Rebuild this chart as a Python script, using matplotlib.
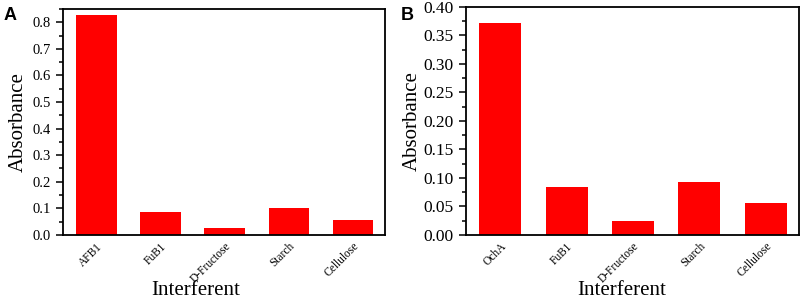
import matplotlib
matplotlib.use("Agg")
from matplotlib import pyplot as plt
from matplotlib.ticker import MultipleLocator, AutoMinorLocator
import numpy as np

plt.rcParams['font.family'] = ['Liberation Serif', 'DejaVu Serif']

# Panel A data
labels_a = ["AFB1", "FuB1", "D-Fructose", "Starch", "Cellulose"]
values_a = [0.827, 0.085, 0.025, 0.100, 0.056]

# Panel B data
labels_b = ["OchA", "FuB1", "D-Fructose", "Starch", "Cellulose"]
values_b = [0.372, 0.084, 0.024, 0.092, 0.056]


def draw_panel(ax, labels, values, ymax, major, fmt, xlab_x, ysize, ylpad):
    x = np.arange(len(labels))
    ax.bar(x, values, width=0.63, color="#ff0000", edgecolor="none")
    ax.set_xlim(-0.52, len(labels) - 0.5)
    ax.set_ylim(0, ymax)
    ax.yaxis.set_major_locator(MultipleLocator(major))
    ax.yaxis.set_minor_locator(AutoMinorLocator(2))
    ax.yaxis.set_major_formatter(plt.FormatStrFormatter(fmt))
    ax.set_xticks(x)
    ax.set_xticklabels(labels, rotation=45, ha="right", rotation_mode="anchor",
                       fontsize=8.3)
    ax.tick_params(axis="x", length=0, pad=4)
    ax.tick_params(axis="y", which="major", direction="out", length=5,
                   width=1.1, labelsize=ysize, pad=4)
    ax.tick_params(axis="y", which="minor", direction="out", length=3, width=1.1)
    for s in ax.spines.values():
        s.set_linewidth(1.3)
    ax.set_ylabel("Absorbance", fontsize=15, labelpad=ylpad)
    # x label sits near the bottom edge of the figure
    fig = ax.figure
    bb = ax.get_position()
    fig.text(bb.x0 + xlab_x * bb.width, 0.016, "Interferent", fontsize=15,
             ha="center", va="baseline")


fig = plt.figure(figsize=(8.03, 3.0), dpi=100)

ax1 = fig.add_axes([0.0785, 0.217, 0.401, 0.753])
draw_panel(ax1, labels_a, values_a, 0.85, 0.1, "%.1f", 0.413, 10.5, 3)

ax2 = fig.add_axes([0.58, 0.217, 0.415, 0.76])
draw_panel(ax2, labels_b, values_b, 0.40, 0.05, "%.2f", 0.468, 12.5, 1)

fig.text(0.005, 0.975, "A", fontsize=13, fontweight="bold", family="Liberation Sans",
         va="top", ha="left")
fig.text(0.499, 0.975, "B", fontsize=13, fontweight="bold", family="Liberation Sans",
         va="top", ha="left")

fig.savefig("out.png", dpi=100)
